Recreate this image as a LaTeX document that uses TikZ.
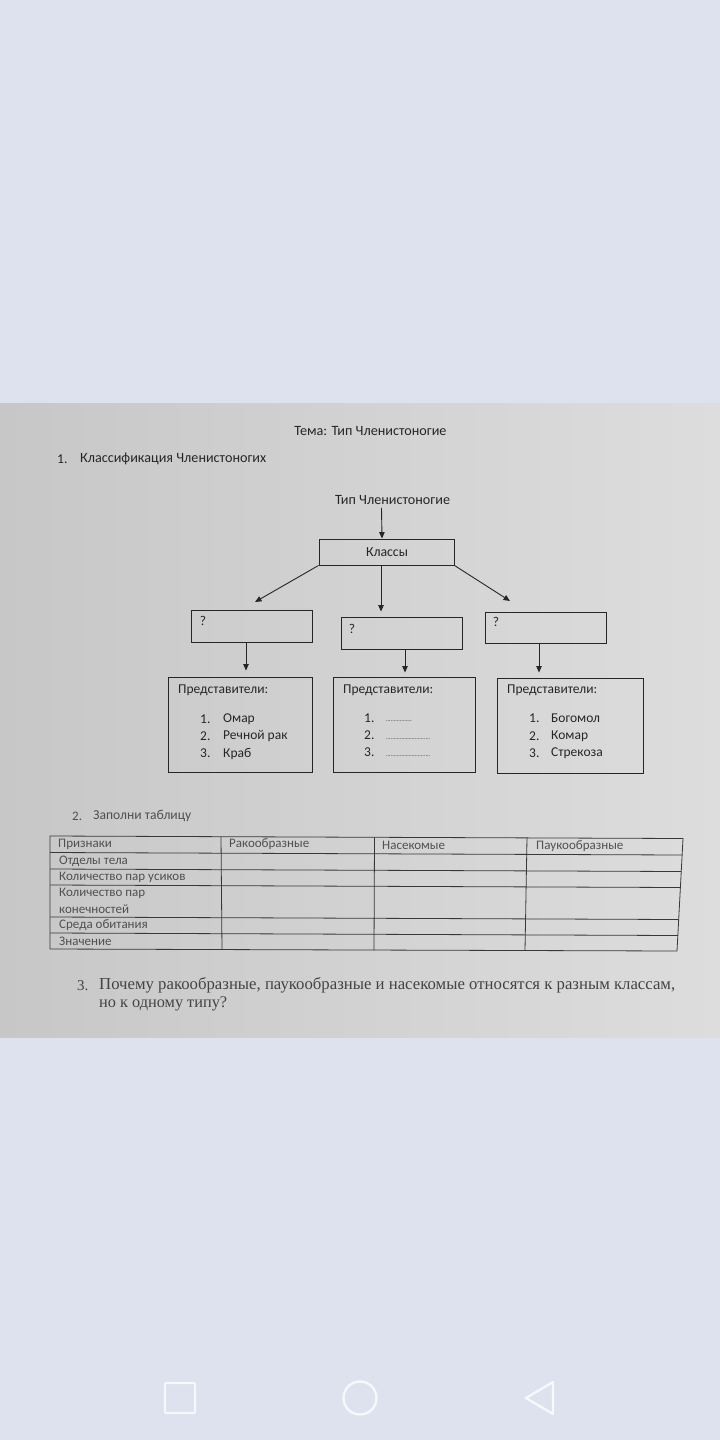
\documentclass[tikz,border=0pt]{standalone}
\usepackage{fontspec}
\setmainfont{Carlito}
\newfontfamily\tms{Liberation Serif}
\usetikzlibrary{arrows.meta,calc}
\definecolor{pagebg}{HTML}{DEE2EE}
\definecolor{ink}{HTML}{262626}
\definecolor{tink}{HTML}{505050}
\definecolor{tline}{HTML}{383838}
\definecolor{qink}{HTML}{434343}
\definecolor{photoL}{HTML}{C7C7C7}
\definecolor{photoR}{HTML}{DDDDDD}
\definecolor{navic}{HTML}{F7F8FC}
\begin{document}
\begin{tikzpicture}[x=1pt,y=-1pt,
  txt/.style={inner sep=0pt, text=ink, font=\fontsize{13.5}{15}\selectfont},
  ttxt/.style={inner sep=0pt, text=tink, font=\fontsize{13}{15}\selectfont, anchor=west},
  dots/.style={inner sep=0pt, text=ink, anchor=south west, font=\fontsize{6}{7}\selectfont},
  box/.style={draw=ink, line width=0.9pt, inner sep=0pt},
  arr/.style={draw=ink, line width=0.9pt, -{Triangle[length=6.5pt,width=5.5pt]}},
  tl/.style={draw=tline, line width=0.8pt},
  nav/.style={draw=navic, line width=2.4pt}
]
\useasboundingbox (0,0) rectangle (720,1440);
\fill[pagebg] (0,0) rectangle (720,1440);
\shade[left color=photoL, right color=photoR] (0,403) rectangle (720,1037);

% headings
\node[txt] (title) at (370.5,431) {\resizebox{152pt}{!}{Тема: Тип Членистоногие}};
\node[txt,anchor=west] (h1n) at (57,459) {1.};
\node[txt,anchor=west] (h1) at (80,459) {\resizebox{186pt}{!}{Классификация Членистоногих}};

% tree
\node[txt] (typ) at (392.5,500) {\resizebox{115pt}{!}{Тип Членистоногие}};
\node[box, minimum width=135pt, minimum height=26pt] (klassy) at (386.5,552) {};
\node[txt] (klt) at (387,552) {\resizebox{42pt}{!}{Классы}};
\draw[arr] ([xshift=-11pt,yshift=-3pt]typ.south) -- ([xshift=-4.5pt]klassy.north);

\node[box, minimum width=121pt, minimum height=32pt] (q1) at (251.5,626) {};
\node[box, minimum width=121pt, minimum height=32pt] (q2) at (401.5,633) {};
\node[box, minimum width=121pt, minimum height=31pt] (q3) at (545.5,627.5) {};
\node[txt] (q1t) at (203,621) {?};
\node[txt] (q2t) at (352,629) {?};
\node[txt] (q3t) at (496,622) {?};

\coordinate (e1) at (255,602);
\coordinate (e3) at (510,601);
\draw[arr] (klassy.south west) -- (e1);
\draw[arr, shorten >=5pt] ([xshift=-5.5pt]klassy.south) -- ([xshift=-20.5pt]q2.north);
\draw[arr] (klassy.south east) -- (e3);

\node[box, minimum width=144pt, minimum height=95pt] (p1) at (240,724.5) {};
\node[box, minimum width=142pt, minimum height=95pt] (p2) at (404,724.5) {};
\node[box, minimum width=146pt, minimum height=95pt] (p3) at (570,725.5) {};

\draw[arr, shorten >=6pt] ([xshift=-5.5pt]q1.south) -- ([xshift=6pt]p1.north);
\draw[arr, shorten >=4pt] ([xshift=3.5pt]q2.south) -- ([xshift=1pt]p2.north);
\draw[arr, shorten >=5pt] ([xshift=-6.5pt]q3.south) -- ([xshift=-31pt]p3.north);

\node[txt,anchor=west] (p1h) at (178,690) {\resizebox{90pt}{!}{Представители:}};
\node[txt,anchor=west] (p2h) at (343,690) {\resizebox{90pt}{!}{Представители:}};
\node[txt,anchor=west] (p3h) at (507,690) {\resizebox{90pt}{!}{Представители:}};

\node[txt,anchor=west] (p1n1) at (200,719) {1.};
\node[txt,anchor=west] (p1n2) at (200,736.5) {2.};
\node[txt,anchor=west] (p1n3) at (200,753.5) {3.};
\node[txt,anchor=west] (p1a) at (223,719) {Омар};
\node[txt,anchor=west] (p1b) at (223,736.5) {Речной рак};
\node[txt,anchor=west] (p1c) at (223,753.5) {Краб};

\node[txt,anchor=west] (p2n1) at (364,718) {1.};
\node[txt,anchor=west] (p2n2) at (364,735.5) {2.};
\node[txt,anchor=west] (p2n3) at (364,752.5) {3.};
\node[dots] (p2a) at (386,722) {.................};
\node[dots] (p2b) at (386,739.5) {.............................};
\node[dots] (p2c) at (386,756.5) {.............................};

\node[txt,anchor=west] (p3n1) at (529,718.5) {1.};
\node[txt,anchor=west] (p3n2) at (529,736) {2.};
\node[txt,anchor=west] (p3n3) at (529,753.5) {3.};
\node[txt,anchor=west] (p3a) at (551,718.5) {Богомол};
\node[txt,anchor=west] (p3b) at (551,736) {Комар};
\node[txt,anchor=west] (p3c) at (551,753.5) {Стрекоза};

% section 2
\node[ttxt] (h2n) at (72,816) {2.};
\node[ttxt] (h2) at (93,816) {\resizebox{98pt}{!}{Заполни таблицу}};

% table (slightly skewed as photographed)
\draw[tl] (50,836) -- (683,838.5) -- (677,951) -- (50,949) -- cycle;
\draw[tl] (50,852.5) -- (682.1,855);
\draw[tl] (50,869) -- (681.2,871.5);
\draw[tl] (50,885) -- (680.4,887.5);
\draw[tl] (50,917) -- (678.7,919.5);
\draw[tl] (50,933) -- (677.9,935.5);
\draw[tl] (221,836.7) -- (222,949.7);
\draw[tl] (374.5,837.3) -- (374,950.3);
\draw[tl] (527,837.9) -- (525,950.8);

\node[ttxt] (c0) at (58,844) {Признаки};
\node[ttxt] (c1) at (229,844.5) {Ракообразные};
\node[ttxt] (c2) at (382,845) {Насекомые};
\node[ttxt] (c3) at (536,846) {Паукообразные};
\node[ttxt] (r1) at (59,861) {Отделы тела};
\node[ttxt] (r2) at (59,877) {Количество пар усиков};
\node[ttxt] (r3) at (59,893) {Количество пар};
\node[ttxt] (r3b) at (59,909) {конечностей};
\node[ttxt] (r4) at (59,925.5) {Среда обитания};
\node[ttxt] (r5) at (59,941.5) {Значение};

% section 3
\node[inner sep=0pt, text=qink, anchor=west, font=\tms\fontsize{15}{18}\selectfont] (q3n) at (77,985.5) {3.};
\node[inner sep=0pt, text=qink, anchor=west, font=\tms\fontsize{15}{18}\selectfont] (ql1) at (99,985.5) {\resizebox{576pt}{!}{Почему ракообразные, паукообразные и насекомые относятся к разным классам,}};
\node[inner sep=0pt, text=qink, anchor=west, font=\tms\fontsize{15}{18}\selectfont] (ql2) at (99,1003.5) {\resizebox{128pt}{!}{но к одному типу?}};

% navigation bar
\draw[nav, rounded corners=1pt] (165,1383) rectangle (195,1413);
\draw[nav] (360,1398) circle (16.5);
\draw[nav, line join=round] (553,1382) -- (553,1414) -- (526,1398) -- cycle;
\end{tikzpicture}
\end{document}
